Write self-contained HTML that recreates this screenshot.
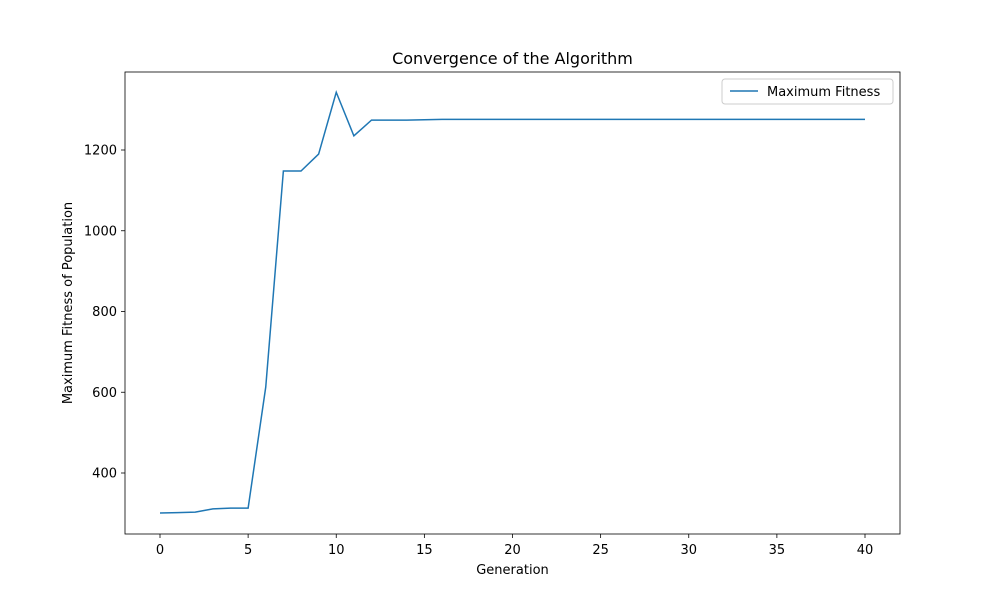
<!DOCTYPE html>
<html><head><meta charset="utf-8"><style>
body{margin:0;background:#fff;}
svg{display:block;font-family:"DejaVu Sans","Liberation Sans",sans-serif;}
</style></head><body>
<svg id="chart" width="1000" height="600" viewBox="0 0 1000 600">
<rect width="1000" height="600" fill="#fff"/>
<text x="512.5" y="64" text-anchor="middle" font-size="16">Convergence of the Algorithm</text>
<g id="axes"></g>
<path id="line" fill="none" stroke="#1f77b4" stroke-width="1.5"/>
<rect x="125" y="72" width="775" height="462" fill="none" stroke="#000" stroke-width="0.8"/>
<g>
<rect x="722" y="79" width="171" height="25" rx="3" fill="#fff" stroke="#ccc"/>
<line x1="730" y1="91" x2="758" y2="91" stroke="#1f77b4" stroke-width="1.5"/>
<text x="767" y="96" font-size="13">Maximum Fitness</text>
</g>
<text x="512.5" y="574" text-anchor="middle" font-size="13">Generation</text>
<text transform="translate(72,303) rotate(-90)" text-anchor="middle" font-size="13">Maximum Fitness of Population</text>
</svg>
<script>
const generations=[0,1,2,3,4,5,6,7,8,9,10,11,12,13,14,15,16,17,18,19,20,21,22,23,24,25,26,27,28,29,30,31,32,33,34,35,36,37,38,39,40];
const fitness=[301,302,303,311,313,313,613,1148,1148,1190,1343,1235,1274,1274,1274,1275,1276,1276,1276,1276,1276,1276,1276,1276,1276,1276,1276,1276,1276,1276,1276,1276,1276,1276,1276,1276,1276,1276,1276,1276,1276];
const xTicks=[0,5,10,15,20,25,30,35,40];
const yTicks=[400,600,800,1000,1200];
const xs=v=>160+(v-0)*(865-160)/40;
const ys=v=>473-(v-400)*(323/800);
const NS="http://www.w3.org/2000/svg";
const ax=document.getElementById('axes');
function mk(t,a){const e=document.createElementNS(NS,t);for(const k in a)e.setAttribute(k,a[k]);ax.appendChild(e);return e;}
xTicks.forEach(t=>{
 const l=mk('line',{x1:xs(t),x2:xs(t),y1:534,y2:538,stroke:'#000','stroke-width':0.8});
 
 
 const tx=mk('text',{x:xs(t),y:554,'text-anchor':'middle','font-size':13});tx.textContent=t;
 
 
});
yTicks.forEach(t=>{
 const l=mk('line',{x1:121,x2:125,y1:ys(t),y2:ys(t),stroke:'#000','stroke-width':0.8});
 
 
 const tx=mk('text',{x:117,y:ys(t)+4.5,'text-anchor':'end','font-size':13});tx.textContent=t;
 
 
});
document.getElementById('line').setAttribute('d',generations.map((g,i)=>(i?'L':'M')+xs(g)+' '+ys(fitness[i])).join(' '));
</script>
</body></html>
